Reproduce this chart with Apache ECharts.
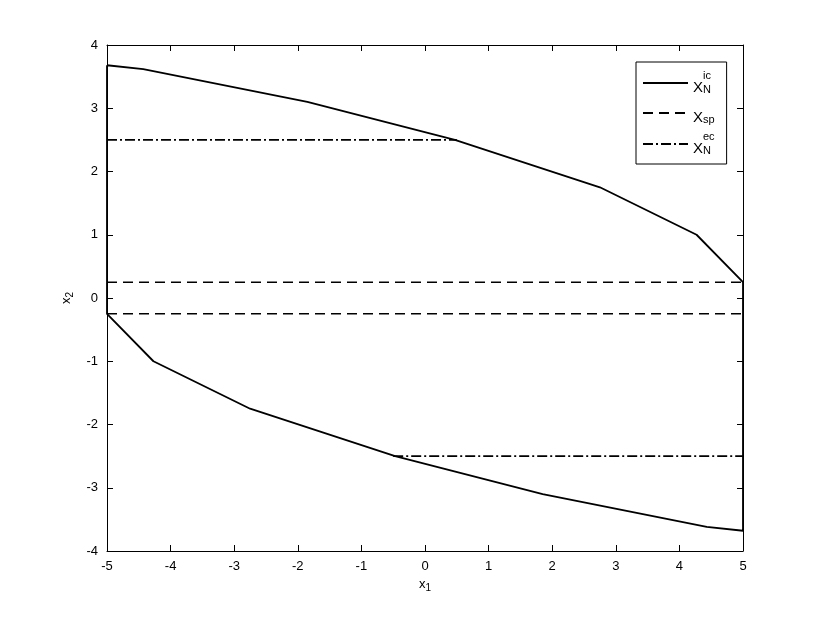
<!DOCTYPE html>
<html>
<head>
<meta charset="utf-8">
<script src="https://cdn.jsdelivr.net/npm/echarts@6/dist/echarts.min.js"></script>
<style>
html, body { margin: 0; padding: 0; background: #fff; }
#chart { width: 822px; height: 617px; }
</style>
</head>
<body>
<div id="chart"></div>
<script>
// boundary of X_N^ic : upper branch left->right, lower branch right->left, then closed
var icUpperX = [-5, -4.43, -1.85, 0.47, 2.75, 4.27, 5];
var icUpperY = [3.68, 3.62, 3.1, 2.5, 1.75, 1.0, 0.25];
var icLowerX = [5, 4.43, 1.85, -0.47, -2.75, -4.27, -5];
var icLowerY = [-3.68, -3.62, -3.1, -2.5, -1.75, -1.0, -0.25];

// X_sp : two horizontal dashed lines
var spX = [-5, 5];
var spUpperY = 0.25;
var spLowerY = -0.25;

// X_N^ec : dash-dot segments
var ecUpperX = [-5, 0.5];
var ecUpperY = 2.5;
var ecLowerX = [-0.5, 5];
var ecLowerY = -2.5;

var xTicks = [-5, -4, -3, -2, -1, 0, 1, 2, 3, 4, 5];
var yTicks = [-4, -3, -2, -1, 0, 1, 2, 3, 4];

var chart;

function pairs(xs, ys) {
    var out = [];
    for (var i = 0; i < xs.length; i++) {
        out.push([xs[i], Array.isArray(ys) ? ys[i] : ys]);
    }
    return out;
}

function icData() {
    var d = pairs(icUpperX, icUpperY).concat(pairs(icLowerX, icLowerY));
    d.push([icUpperX[0], icUpperY[0]]);
    return d;
}

var FONT = 'Liberation Sans';
var black = '#000';

function baseAxis(pos, ticks, showLabel) {
    return {
        type: 'value',
        position: pos,
        min: ticks[0],
        max: ticks[ticks.length - 1],
        interval: 1,
        axisLine: { show: true, onZero: false, lineStyle: { color: black, width: 1 } },
        axisTick: { show: true, inside: true, length: 6, lineStyle: { color: black } },
        axisLabel: {
            show: showLabel, color: black, fontFamily: FONT, fontSize: 13, margin: 9,
            formatter: function (v) { return String(v); }
        },
        splitLine: { show: false }
    };
}

var xBottom = baseAxis('bottom', xTicks, true);
xBottom.name = '{a|x}{s|1}';
xBottom.nameLocation = 'middle';
xBottom.nameGap = 19;
xBottom.nameTextStyle = {
    rich: {
        a: { fontFamily: FONT, fontSize: 13, color: black },
        s: { fontFamily: FONT, fontSize: 10, color: black, verticalAlign: 'bottom', padding: [8, 0, 0, 0] }
    }
};
var xTop = baseAxis('top', xTicks, false);

var yLeft = baseAxis('left', yTicks, true);
yLeft.name = '{a|x}{s|2}';
yLeft.nameLocation = 'middle';
yLeft.nameGap = 32;
yLeft.nameRotate = 90;
yLeft.nameTextStyle = xBottom.nameTextStyle;
var yRight = baseAxis('right', yTicks, false);

var legendRich = {
    x: { fontFamily: FONT, fontSize: 15, color: black, lineHeight: 15 },
    sp0: { width: 10, fontSize: 9, lineHeight: 9 },
    sup: { fontFamily: FONT, fontSize: 11, color: black, lineHeight: 9 },
    sub: { fontFamily: FONT, fontSize: 11, color: black, lineHeight: 15, verticalAlign: 'bottom', padding: [7, 0, 0, 0] }
};

var option = {
    animation: false,
    backgroundColor: '#fff',
    grid: { left: 107, right: 79, top: 45, bottom: 66 },
    xAxis: [xBottom, xTop],
    yAxis: [yLeft, yRight],
    legend: {
        orient: 'vertical',
        left: 636,
        top: 62,
        padding: [8, 12, 8, 6],
        itemWidth: 45,
        itemHeight: 10,
        itemGap: 6,
        borderColor: black,
        borderWidth: 1,
        backgroundColor: '#fff',
        itemStyle: { opacity: 0, borderWidth: 0 },
        data: ['ic', 'sp', 'ec'],
        textStyle: { rich: legendRich, padding: [0, 0, 0, 0] },
        formatter: function (name) {
            if (name === 'sp') return '{sp0| }\n{x|X}{sub|sp}';
            return '{sp0| }{sup|' + name + '}\n{x|X}{sub|N}';
        }
    },
    series: [
        {
            name: 'ic', type: 'line', symbol: 'none',
            data: icData(),
            lineStyle: { color: black, width: 1.8 },
            itemStyle: { color: black }
        },
        {
            name: 'sp', type: 'line', symbol: 'none',
            data: pairs(spX, spUpperY),
            lineStyle: { color: black, width: 1.6, type: [10, 6] },
            itemStyle: { color: black }
        },
        {
            name: 'sp', type: 'line', symbol: 'none',
            data: pairs(spX, spLowerY),
            lineStyle: { color: black, width: 1.6, type: [10, 6] },
            itemStyle: { color: black }
        },
        {
            name: 'ec', type: 'line', symbol: 'none',
            data: pairs(ecUpperX, ecUpperY),
            lineStyle: { color: black, width: 1.6, type: [10, 3, 2, 3] },
            itemStyle: { color: black }
        },
        {
            name: 'ec', type: 'line', symbol: 'none',
            data: pairs(ecLowerX, ecLowerY),
            lineStyle: { color: black, width: 1.6, type: [10, 3, 2, 3] },
            itemStyle: { color: black }
        }
    ]
};

chart = echarts.init(document.getElementById('chart'));
chart.setOption(option);
</script>
</body>
</html>
